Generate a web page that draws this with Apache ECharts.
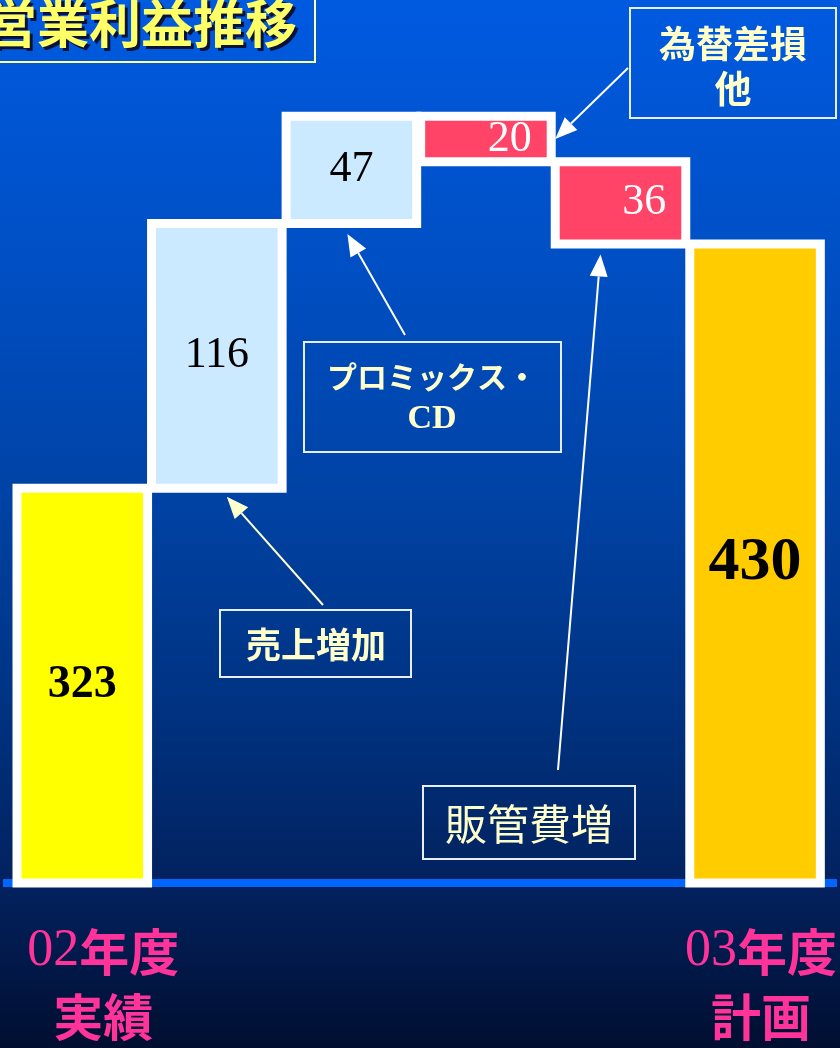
<!DOCTYPE html>
<html>
<head>
<meta charset="utf-8">
<script src="https://cdn.jsdelivr.net/npm/echarts@6/dist/echarts.min.js"></script>
<style>
  html, body { margin: 0; padding: 0; background: #000f30; }
  #chart { width: 840px; height: 1048px; }
</style>
</head>
<body>
<div id="chart"></div>
<script>
// Operating profit bridge: FY02 actual -> FY03 plan (units as labelled)
const title = '営業利益推移';
const categories = ['02年度 実績', '売上増加', 'プロミックス・ CD', '為替差損 他', '販管費増', '03年度 計画'];
const changes = [323, 116, 47, -20, -36, 430];
const isTotal = [true, false, false, false, false, true];

// ---- styling ----
const JP = "'Noto Sans CJK JP', sans-serif";
const SERIF = "'Liberation Serif', 'DejaVu Serif', serif";
const barFill = ['#ffff00', '#cceaff', '#cceaff', '#ff4468', '#ff4468', '#ffcc00'];
const labelInk = ['#000', '#000', '#000', '#fff', '#fff', '#000'];
const labelSize = [46, 44, 44, 44, 44, 62];
const labelBold = [true, false, false, false, false, true];
const PINK = '#ff3399';
const NOTE_INK = '#ffffcc';
const BORDER = 9;
const INSET = 2;
const GRID = { left: 15, right: 17, top: 107, bottom: 165 };

// running floating ranges for the waterfall: [index, start, end, change]
let running = 0;
const bars = changes.map((v, i) => {
  if (isTotal[i]) { running = v; return [i, null, v, v]; }
  const start = running;
  running += v;
  return [i, start, running, v];
});

const chart = echarts.init(document.getElementById('chart'), null, { renderer: 'canvas' });

function axisLabel(value, idx) {
  if (!isTotal[idx]) return '';
  const m = value.match(/^(\d+)(\S+)\s(\S+)$/);
  const sp = idx === 0 ? 'sp0' : 'sp5';
  return `{${sp}|}{num|${m[1]}}{kan|${m[2]}}\n{${sp}|}{kan|${m[3]}}`;
}

chart.setOption({
  backgroundColor: new echarts.graphic.LinearGradient(0, 0, 0, 1, [
    { offset: 0, color: '#005ae0' },
    { offset: 0.25, color: '#004fc4' },
    { offset: 0.48, color: '#0042a4' },
    { offset: 0.7, color: '#00307c' },
    { offset: 0.86, color: '#03205a' },
    { offset: 1, color: '#000e30' }
  ]),
  animation: false,
  grid: GRID,
  xAxis: {
    type: 'category',
    data: categories,
    axisLine: { show: false },
    axisTick: { show: false },
    axisLabel: {
      interval: 0,
      margin: 36,
      formatter: axisLabel,
      rich: {
        num: { fontFamily: SERIF, fontSize: 52, color: PINK, lineHeight: 65 },
        kan: { fontFamily: JP, fontSize: 50, fontWeight: 'bold', color: PINK, lineHeight: 65 },
        sp0: { width: 42 },
        sp5: { width: 12 }
      }
    }
  },
  yAxis: { type: 'value', min: 150, max: 490, show: false },
  series: [{
    type: 'custom',
    z: 3,
    data: bars,
    encode: { x: 0, y: 2 },
    renderItem(params, api) {
      const i = api.value(0);
      const hi = api.coord([i, api.value(2)]);
      const w = api.size([1, 0])[0] - INSET * 2;
      const cs = params.coordSys;
      const lo = isTotal[i] ? [hi[0], cs.y + cs.height] : api.coord([i, api.value(1)]);
      const y0 = Math.min(lo[1], hi[1]);
      const h = Math.abs(lo[1] - hi[1]);
      const v = api.value(3);
      return {
        type: 'rect',
        shape: { x: hi[0] - w / 2, y: y0, width: w, height: h },
        style: { fill: barFill[i], stroke: '#ffffff', lineWidth: BORDER },
        textContent: {
          z2: 50,
          style: {
            text: String(Math.abs(v)),
            fill: labelInk[i],
            fontFamily: SERIF,
            fontSize: labelSize[i],
            fontWeight: labelBold[i] ? 'bold' : 'normal',
            overflow: 'none'
          }
        },
        textConfig: v < 0 ? { position: 'insideRight', distance: 24 } : { position: 'inside' }
      };
    }
  }]
});

// ---- annotations, placed from the bar geometry ----
const plotW = 840 - GRID.left - GRID.right;
const band = plotW / categories.length;
const px = (i, v) => chart.convertToPixel({ gridIndex: 0 }, [i, v]);
const lowEdge = i => px(i, Math.min(bars[i][1], bars[i][2]))[1] + BORDER / 2;
const center = i => px(i, bars[i][2])[0];

function arrow(x1, y1, x2, y2, color) {
  const a = Math.atan2(y2 - y1, x2 - x1);
  const L = 22, half = 9;
  const bx = x2 - L * Math.cos(a), by = y2 - L * Math.sin(a);
  const nx = -Math.sin(a), ny = Math.cos(a);
  return [
    { type: 'line', z: 20, shape: { x1, y1, x2: bx, y2: by }, style: { stroke: color, lineWidth: 2 } },
    { type: 'polygon', z: 20, shape: { points: [[x2, y2], [bx + nx * half, by + ny * half], [bx - nx * half, by - ny * half]] }, style: { fill: color } }
  ];
}

function noteText(label, x, y, size, weight, lineHeight) {
  const lines = label.split(' ');
  const text = lines.map(l => (/^[\x00-\x7F]+$/.test(l) ? `{en|${l}}` : `{jp|${l}}`)).join('\n');
  return {
    type: 'text', z: 21, x, y,
    style: {
      text, align: 'center', verticalAlign: 'middle', fill: NOTE_INK,
      rich: {
        jp: { fontFamily: JP, fontSize: size, fontWeight: weight, fill: NOTE_INK, lineHeight },
        en: { fontFamily: SERIF, fontSize: size + 4, fontWeight: 'bold', fill: NOTE_INK, lineHeight }
      }
    }
  };
}

function box(x, y, w, h) {
  return { type: 'rect', z: 19, shape: { x, y, width: w, height: h }, style: { fill: 'none', stroke: '#e6eefa', lineWidth: 2 } };
}

const g = [];
// baseline
const baseY = 1048 - GRID.bottom;
g.push({ type: 'rect', z: 1, shape: { x: 3, y: baseY - 4, width: 834, height: 8 }, style: { fill: '#0066ff' } });

// title
g.push({ type: 'rect', z: 19, shape: { x: -10, y: -10, width: 325, height: 72 }, style: { fill: 'none', stroke: '#ffff99', lineWidth: 2 } });
g.push({ type: 'text', z: 20, x: -12, y: 26, style: { text: title, fill: '#0a1238', fontFamily: JP, fontSize: 52, fontWeight: 'bold', verticalAlign: 'middle' } });
g.push({ type: 'text', z: 21, x: -15, y: 23, style: { text: title, fill: '#ffff66', fontFamily: JP, fontSize: 52, fontWeight: 'bold', verticalAlign: 'middle' } });

// 為替差損 他
g.push(box(630, 8, 206, 110));
g.push(noteText(categories[3], 733, 66, 37, 'bold', 45));
{
  const top = px(3, bars[3][1])[1], bot = px(3, bars[3][2])[1];
  g.push(...arrow(628, 68, center(3) + band / 2 + 2, (top + bot) / 2, '#ffffff'));
}

// プロミックス・CD
g.push(box(304, 342, 257, 110));
g.push(noteText(categories[2], 432, 398, 30, 'bold', 43));
g.push(...arrow(405, 335, center(2) - 4, lowEdge(2) + 6, '#ffffff'));

// 売上増加
g.push(box(220, 610, 191, 67));
g.push(noteText(categories[1], 316, 645, 35, 'bold', 44));
g.push(...arrow(323, 605, center(1) + 10, lowEdge(1) + 4, NOTE_INK));

// 販管費増
g.push(box(423, 786, 212, 73));
g.push(noteText(categories[4], 529, 824, 42, 'normal', 50));
g.push(...arrow(558, 770, center(4) - 20, lowEdge(4) + 6, '#ffffff'));

chart.setOption({ graphic: g });
</script>
</body>
</html>
